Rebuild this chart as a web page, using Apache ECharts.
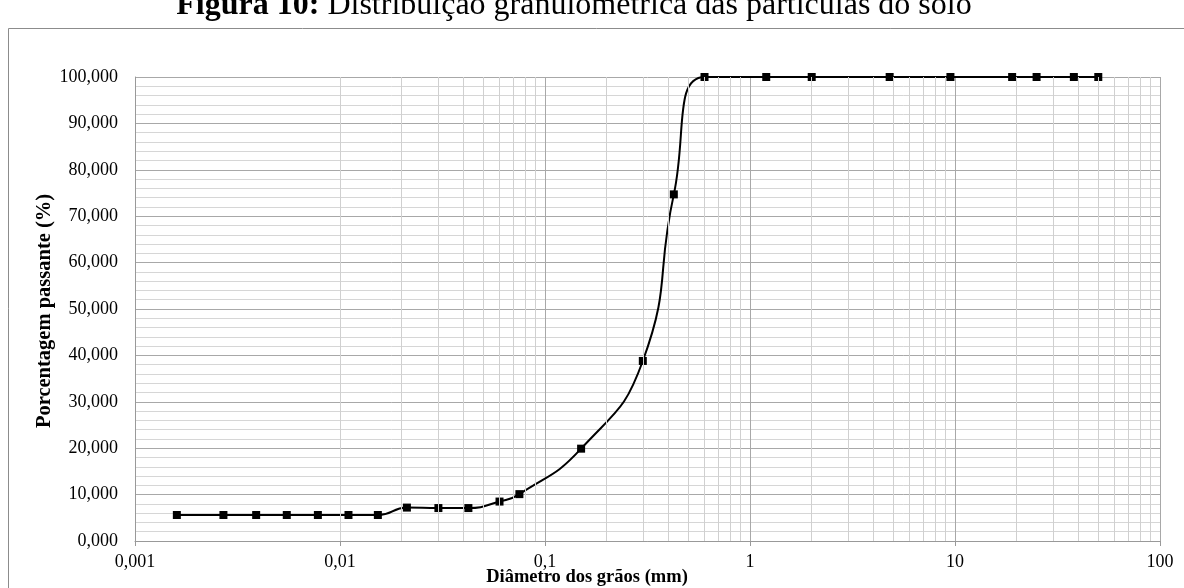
<!DOCTYPE html>
<html>
<head>
<meta charset="utf-8">
<script src="https://cdn.jsdelivr.net/npm/echarts@6/dist/echarts.min.js"></script>
<style>
html, body { margin: 0; padding: 0; background: #fff; }
#chart { width: 1184px; height: 588px; }
</style>
</head>
<body>
<div id="chart"></div>
<script>
// diâmetro dos grãos (mm) e porcentagem passante (%)
var diametros = [0.0016, 0.0027, 0.0039, 0.0055, 0.0078, 0.011, 0.0153, 0.0212, 0.0302, 0.0423,
  0.06, 0.075, 0.15, 0.3, 0.425, 0.6, 1.2, 2.0, 4.8, 9.5, 19, 25, 38, 50];
var passante = [5.6, 5.6, 5.6, 5.6, 5.6, 5.6, 5.6, 7.2, 7.1, 7.1,
  8.5, 10.1, 19.9, 38.8, 74.7, 100, 100, 100, 100, 100, 100, 100, 100, 100];

var xTickLabels = ["0,001", "0,01", "0,1", "1", "10", "100"];
var yTickLabels = ["0,000", "10,000", "20,000", "30,000", "40,000", "50,000",
  "60,000", "70,000", "80,000", "90,000", "100,000"];

// linhas de grade secundárias do eixo log (2..9 em cada década)
var decadas = [0.001, 0.01, 0.1, 1, 10];
var linhasMenores = [];
decadas.forEach(function (d) {
  for (var k = 2; k <= 9; k++) linhasMenores.push(d * k);
});

var chart = echarts.init(document.getElementById("chart"));
chart.setOption({
  animation: false,
  textStyle: { fontFamily: "Liberation Serif" },
  grid: { left: 135, right: 24, top: 77, bottom: 47 },
  xAxis: {
    type: "log",
    logBase: 10,
    min: 0.001,
    max: 100,
    axisLine: { show: true, lineStyle: { color: "#999", width: 1 } },
    axisTick: { show: true, length: 5, lineStyle: { color: "#999" } },
    axisLabel: {
      fontSize: 18,
      color: "#000",
      margin: 12,
      formatter: function (v) {
        return xTickLabels[Math.round(Math.log10(v)) + 3];
      }
    },
    splitLine: { show: true, lineStyle: { color: "#a8a8a8" } }
  },
  yAxis: {
    type: "value",
    min: 0,
    max: 100,
    interval: 10,
    axisLine: { show: true, lineStyle: { color: "#999" } },
    axisTick: { show: false },
    axisLabel: {
      fontSize: 18,
      color: "#000",
      margin: 17,
      formatter: function (v) {
        return yTickLabels[Math.round(v / 10)];
      }
    },
    splitLine: { show: true, lineStyle: { color: "#a8a8a8" } },
    minorTick: { show: false, splitNumber: 5 },
    minorSplitLine: { show: true, lineStyle: { color: "#d6d6d6" } }
  },
  series: [
    {
      type: "line",
      data: [],
      z: 1,
      silent: true,
      markLine: {
        silent: true,
        symbol: "none",
        label: { show: false },
        lineStyle: { color: "#d0d0d0", type: "solid", width: 1 },
        data: linhasMenores.map(function (v) { return { xAxis: v }; })
      }
    },
    {
      type: "line",
      z: 3,
      data: diametros.map(function (d, i) { return [d, passante[i]]; }),
      smooth: true,
      symbol: "rect",
      symbolSize: 8,
      lineStyle: { color: "#000", width: 2 },
      itemStyle: { color: "#000" }
    }
  ],
  graphic: [
    {
      type: "rect",
      silent: true,
      shape: { x: 8.5, y: 28.5, width: 1400, height: 800 },
      style: { fill: "none", stroke: "#8c8c8c", lineWidth: 1 }
    },
    {
      type: "text",
      x: 574,
      y: 22,
      style: {
        text: "{b|Figura 10:} Distribuição granulométrica das partículas do solo",
        rich: { b: { fontWeight: "bold", fontSize: 32, fontFamily: "Liberation Serif" } },
        fontSize: 32,
        fontFamily: "Liberation Serif",
        fill: "#000",
        align: "center",
        verticalAlign: "bottom"
      }
    },
    {
      type: "text",
      x: 587,
      y: 577,
      style: {
        text: "Diâmetro dos grãos (mm)",
        fontSize: 18.5,
        fontWeight: "bold",
        fontFamily: "Liberation Serif",
        fill: "#000",
        align: "center",
        verticalAlign: "middle"
      }
    },
    {
      type: "text",
      x: 45,
      y: 311,
      rotation: Math.PI / 2,
      style: {
        text: "Porcentagem passante (%)",
        fontSize: 20.5,
        fontWeight: "bold",
        fontFamily: "Liberation Serif",
        fill: "#000",
        align: "center",
        verticalAlign: "middle"
      }
    }
  ]
});
</script>
</body>
</html>
